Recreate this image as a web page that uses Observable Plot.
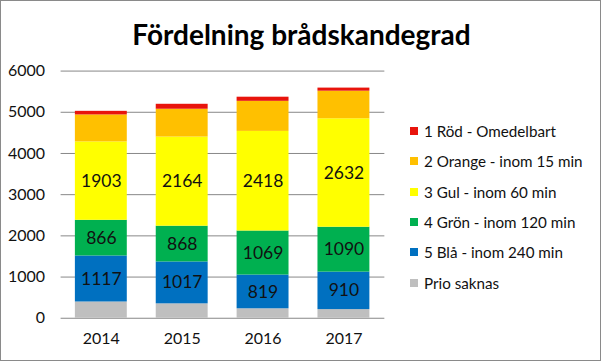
<!DOCTYPE html>
<html><head><meta charset="utf-8">
<script src="https://cdn.jsdelivr.net/npm/d3@7"></script>
<script src="https://cdn.jsdelivr.net/npm/@observablehq/plot@0.6"></script>
<style>
html,body{margin:0;padding:0;background:#fff;}
#wrap{position:relative;width:599px;height:359px;border:1px solid #8a8a8a;overflow:hidden;font-family:Lato,"Open Sans",sans-serif;}
#title{position:absolute;left:0;top:16px;width:601px;text-align:center;font-weight:bold;font-size:28px;color:#000;font-family:Lato,sans-serif;}
#plot{position:absolute;left:-1px;top:-1px;}
#legend{position:absolute;left:409px;top:115px;font-size:15.2px;color:#111;}
#legend .row{height:30.3px;display:flex;align-items:center;white-space:nowrap;}
#legend .sw{width:8px;height:8px;margin-right:6px;}
</style></head>
<body><div id="wrap"><div id="title">Fördelning brådskandegrad</div><div id="plot"></div><div id="legend"></div></div>
<script>
const years = ["2014","2015","2016","2017"];
const seriesNames = ["Prio saknas","5 Blå - inom 240 min","4 Grön - inom 120 min","3 Gul - inom 60 min","2 Orange - inom 15 min","1 Röd - Omedelbart"];
const colors = ["#bfbfbf","#0070c0","#00b050","#ffff00","#ffc000","#e8140c"];
const saknas = [395,350,230,210];
const bla = [1117,1017,819,910];
const gron = [866,868,1069,1090];
const gul = [1903,2164,2418,2632];
const orange = [655,675,730,670];
const rod = [87,120,100,75];
const labelled = ["5 Blå - inom 240 min","4 Grön - inom 120 min","3 Gul - inom 60 min"];
const yTicks = [0,1000,2000,3000,4000,5000,6000];

const seriesValues = [saknas,bla,gron,gul,orange,rod];
const rows = [];
seriesNames.forEach((s,i)=>years.forEach((y,j)=>rows.push({year:y,series:s,value:seriesValues[i][j]})));

const chart = Plot.plot({
  width:601, height:361,
  marginTop:70.7, marginBottom:42.7, marginLeft:60.7, marginRight:216,
  style:{fontFamily:"Lato, sans-serif", fontSize:"16px", color:"#111", background:"transparent"},
  x:{domain:years, paddingInner:0.36, paddingOuter:0.18, label:null, tickSize:0, tickPadding:14},
  y:{domain:[0,6000], ticks:yTicks, label:null, tickSize:0, tickPadding:16, tickFormat:d=>String(d)},
  color:{domain:seriesNames, range:colors},
  marks:[
    Plot.ruleY(yTicks,{stroke:"#888",strokeWidth:1}),
    Plot.barY(rows, Plot.stackY({x:"year", y:"value", fill:"series", z:"series", order:null})),
    Plot.text(rows, Plot.stackY({x:"year", y:"value", z:"series", order:null, text:d=>labelled.includes(d.series)?String(d.value):"", fill:"#111", fontSize:17.5})),
    Plot.axisY({ticks:yTicks, tickSize:0, tickPadding:16, label:null, fontSize:16, tickFormat:d=>String(d)}),
    Plot.axisX({tickSize:0, tickPadding:14, label:null, fontSize:16})
  ]
});
document.getElementById("plot").appendChild(chart);

const leg = document.getElementById("legend");
[...seriesNames].reverse().forEach((s)=>{
  const i = seriesNames.indexOf(s);
  const r = document.createElement("div"); r.className="row";
  const sw = document.createElement("div"); sw.className="sw"; sw.style.background=colors[i];
  const t = document.createElement("span"); t.textContent=s;
  r.appendChild(sw); r.appendChild(t); leg.appendChild(r);
});
</script></body></html>
